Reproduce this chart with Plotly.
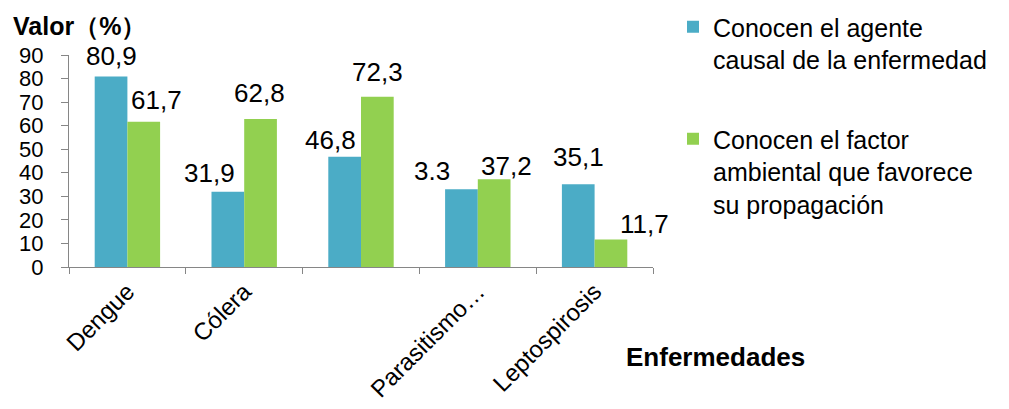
import plotly.graph_objects as go

# Survey results: share of respondents (%) per disease
categorias = ["Dengue", "Cólera", " ", "Parasitismo…", "Leptospirosis"]
agente_causal = [80.9, 31.9, 46.8, 33.0, 35.1]
factor_ambiental = [61.7, 62.8, 72.3, 37.2, 11.7]

# Value labels as printed on the chart
etiquetas_agente = ["80,9", "31,9", "46,8", "3.3", "35,1"]
etiquetas_factor = ["61,7", "62,8", "72,3", "37,2", "11,7"]

serie_agente = "Conocen el agente<br>causal de la enfermedad"
serie_factor = "Conocen el factor<br>ambiental que favorece<br>su propagación"

AZUL = "#4BACC6"
VERDE = "#92D050"
GRIS = "#868686"
FUENTE = "Liberation Sans, Arial, sans-serif"
W, H = 1009, 409

fig = go.Figure()
fig.add_trace(go.Bar(
    x=categorias, y=agente_causal, name=serie_agente,
    marker=dict(color=AZUL, line=dict(width=0)),
    legendgroup="a", hoverinfo="x+y",
))
fig.add_trace(go.Bar(
    x=categorias, y=factor_ambiental, name=serie_factor,
    marker=dict(color=VERDE, line=dict(width=0)),
    legendgroup="b", hoverinfo="x+y",
))

# value labels placed above each bar (pixel nudges per label)
half_bar = 16.4
nudge_agente = [(0, 20), (-18, 19), (-14, 17), (-29, 18), (0, 27)]
nudge_factor = [(13, 22), (-1, 26), (0, 25), (12, 13), (33, 15)]
for cat, val, txt, (dx, dy) in zip(categorias, agente_causal, etiquetas_agente, nudge_agente):
    fig.add_annotation(x=cat, y=val, text=txt, showarrow=False,
                       xanchor="center", yanchor="middle",
                       xshift=-half_bar + dx, yshift=dy,
                       font=dict(family=FUENTE, size=26, color="black"))
for cat, val, txt, (dx, dy) in zip(categorias, factor_ambiental, etiquetas_factor, nudge_factor):
    fig.add_annotation(x=cat, y=val, text=txt, showarrow=False,
                       xanchor="center", yanchor="middle",
                       xshift=half_bar + dx, yshift=dy,
                       font=dict(family=FUENTE, size=26, color="black"))

# axis titles
fig.add_annotation(text="Valor（%）", xref="paper", yref="paper",
                   x=0, y=1, xanchor="left", yanchor="middle",
                   xshift=-58, yshift=29, showarrow=False,
                   font=dict(family=FUENTE, size=25, color="black", weight="bold"))
fig.add_annotation(text="Enfermedades", xref="paper", yref="paper",
                   x=1, y=0, xanchor="left", yanchor="middle",
                   xshift=-29, yshift=-90, showarrow=False,
                   font=dict(family=FUENTE, size=26, color="black", weight="bold"))

fig.update_layout(
    template="none",
    width=W, height=H,
    margin=dict(l=69, r=356, t=55, b=142, autoexpand=False),
    paper_bgcolor="white", plot_bgcolor="white",
    barmode="group", bargap=0.44, bargroupgap=0,
    font=dict(family=FUENTE, color="black"),
    showlegend=True,
    legend=dict(
        xref="container", x=673 / W, xanchor="left",
        yref="container", y=1 - 4 / H, yanchor="top",
        traceorder="grouped", tracegroupgap=44,
        valign="top", maxheight=1,
        font=dict(family=FUENTE, size=25, color="black"),
        bgcolor="rgba(0,0,0,0)", borderwidth=0,
    ),
    xaxis=dict(
        type="category", automargin=False,
        range=[-0.5, len(categorias) - 0.5], autorange=False,
        showline=True, linecolor=GRIS, linewidth=1,
        ticks="outside", tickson="boundaries", ticklen=6, tickcolor=GRIS,
        tickangle=-45, showgrid=False, zeroline=False,
        ticklabelstandoff=0,
        tickfont=dict(family=FUENTE, size=24, color="black"),
    ),
    yaxis=dict(
        range=[0, 90], dtick=10, tick0=0, automargin=False, autorange=False,
        showline=True, linecolor=GRIS, linewidth=1,
        ticks="outside", ticklen=7, tickcolor=GRIS,
        showgrid=False, zeroline=False,
        ticklabelstandoff=13,
        tickfont=dict(family=FUENTE, size=22, color="black"),
    ),
)

fig.write_html("out.html")
